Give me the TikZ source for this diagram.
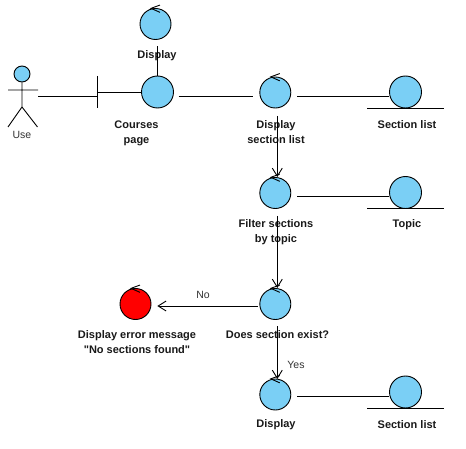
\documentclass[tikz,border=0pt]{standalone}
\usepackage{fontspec}
\setmainfont{Liberation Sans}[Ligatures=TeXOff]
\usetikzlibrary{arrows.meta}
\definecolor{robust}{RGB}{122,207,245}
\tikzset{
  x=1pt,y=-1pt,
  line/.style={draw=black,line width=0.9pt},
  flow/.style={line,-{Straight Barb[length=8pt,width=10pt,line width=0.9pt]}},
  robustnode/.style={circle,draw=black,line width=0.9pt,fill=robust,inner sep=0pt,minimum size=#1},
  robustnode/.default=31pt,
  redctl/.style={robustnode=31pt,fill=red},
  lab/.style={font=\fontsize{11}{15}\selectfont\bfseries,align=center,inner sep=0pt,text=black!90},
  plain/.style={font=\fontsize{10.5}{13}\selectfont,inner sep=0pt,text=black!80},
}
\newcommand{\chev}[1]{\draw[line] ([shift={(4.5,-3)}]#1.north) -- ([shift={(-4.5,0.3)}]#1.north) -- ([shift={(4.5,4.3)}]#1.north);}
\newcommand{\under}[1]{\draw[line] ([shift={(-38.5,0)}]#1.south) -- ([shift={(38.5,0)}]#1.south);}
\begin{document}
\begin{tikzpicture}
\useasboundingbox[fill=white] (0,0) rectangle (466,449);
% actor
\node[robustnode=16pt] (actor) at (22,74) {};
\coordinate (hip) at (22,107);
\coordinate (armL) at (8,90);
\coordinate (armR) at (38,90);
\coordinate (legL) at (8,127);
\coordinate (legR) at (37.5,127);
\draw[line] (actor.south) -- (hip) (armL) -- (armR) (legL) -- (hip) -- (legR);
\node[plain] (use) at (22,135) {Use};
% boundary
\coordinate (bt) at (97,76);
\coordinate (bb) at (97,108);
\coordinate (bm) at (97,92);
\coordinate (bl) at (97,96.5);
\coordinate (al) at (38,96.5);
\draw[line] (bt) -- (bb);
% nodes
\node[robustnode=31pt] (disp1) at (155.5,24) {};
\node[robustnode=32pt] (courses) at (157.5,92) {};
\node[robustnode=31pt] (dsl) at (275.3,92.5) {};
\node[robustnode=32pt] (sl1) at (405.5,92) {};
\node[robustnode=31pt] (filter) at (275.3,193) {};
\node[robustnode=32pt] (topic) at (405.5,192.5) {};
\node[robustnode=31pt] (exist) at (275.3,304) {};
\node[redctl] (err) at (135.5,304) {};
\node[robustnode=31pt] (disp2) at (275.3,394.5) {};
\node[robustnode=32pt] (sl2) at (405.5,392) {};
\chev{disp1}\chev{dsl}\chev{filter}\chev{exist}\chev{err}\chev{disp2}
\under{sl1}\under{topic}\under{sl2}
% labels
\node[lab] (tdisp1) at (157,55.5) {Display};
\node[lab] (tcourses) at (136.5,133) {Courses\\page};
\node[lab] (tdsl) at (276,132.5) {Display\\section list};
\node[lab] (tsl1) at (407,125) {Section list};
\node[lab] (tfilter) at (276,232.5) {Filter sections\\by topic};
\node[lab] (ttopic) at (407,225) {Topic};
\node[lab] (texist) at (277.5,335) {Does section exist?};
\node[lab] (terr) at (137,342.5) {Display error message\\"No sections found"};
\node[lab] (tdisp2) at (276,425) {Display};
\node[lab] (tsl2) at (407,425) {Section list};
\node[plain] (tno) at (203,294.5) {No};
\node[plain] (tyes) at (296,364.5) {Yes};
% connector ends
\coordinate (c1) at (157.5,46.5);
\coordinate (c2a) at (178.5,96.5);
\coordinate (c2b) at (252.7,96.5);
\coordinate (c3a) at (297.3,96.5);
\coordinate (c3b) at (388.5,96.5);
\coordinate (f1a) at (277.3,116);
\coordinate (f1b) at (277.3,177);
\coordinate (c4a) at (297.3,196);
\coordinate (c4b) at (388.5,196);
\coordinate (f2a) at (277.3,216);
\coordinate (f2b) at (277.3,288);
\coordinate (f3a) at (257.7,306);
\coordinate (f3b) at (157.3,306);
\coordinate (f4a) at (277.3,326);
\coordinate (f4b) at (277.3,379);
\coordinate (c5a) at (297.3,396);
\coordinate (c5b) at (388.5,396);
% connectors
\draw[line] (al) -- (bl);
\draw[line] (bm) -- (courses.west);
\draw[line] (courses.north) -- (c1);
\draw[line] (c2a) -- (c2b);
\draw[line] (c3a) -- (c3b);
\draw[flow] (f1a) -- (f1b);
\draw[line] (c4a) -- (c4b);
\draw[flow] (f2a) -- (f2b);
\draw[flow] (f3a) -- (f3b);
\draw[flow] (f4a) -- (f4b);
\draw[line] (c5a) -- (c5b);
\end{tikzpicture}
\end{document}
